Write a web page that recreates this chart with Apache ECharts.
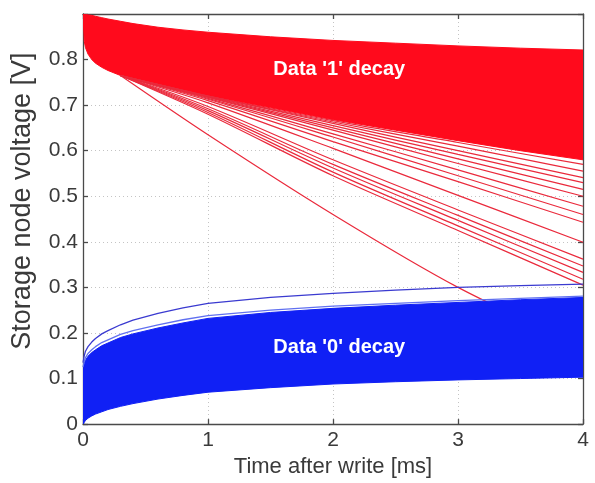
<!DOCTYPE html>
<html>
<head>
<meta charset="utf-8">
<script src="https://cdn.jsdelivr.net/npm/echarts@6/dist/echarts.min.js"></script>
<style>
html,body{margin:0;padding:0;background:#fff;}
#c{width:595px;height:483px;}
</style>
</head>
<body>
<div id="c"></div>
<script>
// Time samples [ms] for the dense bands and the blue outliers
var TB = [0, 0.01, 0.02, 0.04, 0.07, 0.1, 0.15, 0.2, 0.3, 0.4, 0.6, 0.8, 1, 1.5, 2, 2.5, 3, 3.5, 4];
// Time samples [ms] for the red outlier traces (after they leave the dense band)
var TR = [0.3, 1, 2, 3, 4];
var xTicks = [0, 1, 2, 3, 4];
var yTicks = [0, 0.1, 0.2, 0.3, 0.4, 0.5, 0.6, 0.7, 0.8];

// Data '1' dense band envelope
var redTop = [0.900, 0.900, 0.899, 0.898, 0.897, 0.895, 0.892, 0.889, 0.884, 0.879, 0.871, 0.865, 0.860, 0.850, 0.842, 0.836, 0.830, 0.825, 0.821];
var redLow = [0.900, 0.840, 0.826, 0.812, 0.800, 0.792, 0.783, 0.776, 0.765, 0.757, 0.743, 0.731, 0.720, 0.694, 0.668, 0.645, 0.622, 0.600, 0.580];

// Data '1' outlier traces
var red01 = [0.765, 0.635, 0.460, 0.300, 0.170];
var red02 = [0.765, 0.680, 0.545, 0.425, 0.305];
var red03 = [0.765, 0.684, 0.553, 0.435, 0.318];
var red04 = [0.765, 0.688, 0.562, 0.447, 0.333];
var red05 = [0.765, 0.692, 0.570, 0.458, 0.347];
var red06 = [0.765, 0.697, 0.580, 0.470, 0.362];
var red07 = [0.765, 0.705, 0.605, 0.502, 0.399];
var red08 = [0.765, 0.710, 0.620, 0.532, 0.443];
var red09 = [0.765, 0.713, 0.630, 0.545, 0.460];
var red10 = [0.765, 0.715, 0.637, 0.558, 0.478];
var red11 = [0.765, 0.717, 0.645, 0.572, 0.500];
var red12 = [0.765, 0.718, 0.650, 0.582, 0.515];
var red13 = [0.765, 0.719, 0.655, 0.592, 0.530];
var red14 = [0.765, 0.720, 0.660, 0.600, 0.541];
var red15 = [0.765, 0.720, 0.663, 0.610, 0.555];
var red16 = [0.765, 0.720, 0.666, 0.618, 0.570];
var redLines = [red01, red02, red03, red04, red05, red06, red07, red08,
                red09, red10, red11, red12, red13, red14, red15, red16];

// Data '0' dense band envelope
var blueTop = [0.120, 0.133, 0.140, 0.149, 0.157, 0.163, 0.172, 0.178, 0.190, 0.198, 0.211, 0.222, 0.232, 0.245, 0.254, 0.261, 0.267, 0.273, 0.278];
var blueLow = [0.000, 0.004, 0.008, 0.013, 0.018, 0.022, 0.027, 0.032, 0.039, 0.045, 0.055, 0.063, 0.070, 0.080, 0.088, 0.093, 0.097, 0.100, 0.103];
// Data '0' outlier traces
var blue01 = [0.135, 0.150, 0.160, 0.170, 0.180, 0.188, 0.198, 0.205, 0.218, 0.228, 0.243, 0.255, 0.265, 0.278, 0.287, 0.294, 0.300, 0.304, 0.307];
var blue02 = [0.125, 0.138, 0.146, 0.155, 0.163, 0.170, 0.179, 0.185, 0.197, 0.205, 0.218, 0.229, 0.238, 0.250, 0.259, 0.265, 0.271, 0.276, 0.281];
var blueLines = [blue01, blue02];

var labels = [
  {text: "Data '1' decay", t: 2.05, v: 0.778},
  {text: "Data '0' decay", t: 2.05, v: 0.169}
];

var RED = '#ff0a1c';
var BLUE = '#1020f5';

function pts(ts, arr) { return ts.map(function (t, i) { return [t, arr[i]]; }); }

function bandSeries(top, low, color, z) {
  return {
    type: 'custom', silent: true, animation: false, clip: true, z: z,
    data: [[0, 0]],
    renderItem: function (params, api) {
      var p = [];
      for (var i = 0; i < TB.length; i++) p.push(api.coord([TB[i], top[i]]));
      for (var j = TB.length - 1; j >= 0; j--) p.push(api.coord([TB[j], low[j]]));
      return {type: 'polygon', shape: {points: p}, style: {fill: color, stroke: color, lineWidth: 1}};
    }
  };
}

var series = [];
series.push(bandSeries(redTop, redLow, RED, 2));
redLines.forEach(function (l, i) {
  series.push({type: 'line', showSymbol: false, smooth: 0.3, silent: true, animation: false, z: 3,
    data: pts(TR, l), lineStyle: {color: '#ea2a3c', width: 1.2}});
});
series.push(bandSeries(blueTop, blueLow, BLUE, 4));
blueLines.forEach(function (l, i) {
  series.push({type: 'line', showSymbol: false, smooth: false, silent: true, animation: false, z: 5,
    data: pts(TB, l), lineStyle: {color: i === 0 ? '#3a3ad0' : '#6070f0', width: 1.3}});
});

var FONT = 'Liberation Sans';
var axisLineStyle = {color: '#4a4a4a', width: 1.3};
var chart = echarts.init(document.getElementById('c'), null, {renderer: 'canvas'});
chart.setOption({
  animation: false,
  backgroundColor: '#fff',
  grid: {left: 83, right: 12, top: 14, bottom: 58},
  xAxis: [{
    type: 'value', min: 0, max: 4, interval: 1,
    name: 'Time after write [ms]', nameLocation: 'middle', nameGap: 29,
    nameTextStyle: {fontFamily: FONT, fontSize: 22, color: '#3a3a3a'},
    axisLine: {show: true, onZero: false, lineStyle: axisLineStyle},
    axisTick: {show: true, inside: true, length: 5, lineStyle: axisLineStyle},
    axisLabel: {fontFamily: FONT, fontSize: 21, color: '#3a3a3a', margin: 6,
      formatter: function (v) { return xTicks.indexOf(v) >= 0 ? String(v) : ''; }},
    splitLine: {show: true, lineStyle: {color: '#c4c4c4', type: [1, 3], width: 1}}
  }, {
    type: 'value', min: 0, max: 4, interval: 1, position: 'top',
    axisLine: {show: true, onZero: false, lineStyle: axisLineStyle},
    axisTick: {show: true, inside: true, length: 5, lineStyle: axisLineStyle},
    axisLabel: {show: false}, splitLine: {show: false}
  }],
  yAxis: [{
    type: 'value', min: 0, max: 0.9, interval: 0.1,
    name: 'Storage node voltage [V]', nameLocation: 'middle', nameGap: 47,
    nameTextStyle: {fontFamily: FONT, fontSize: 27, color: '#3a3a3a', padding: [0, 0, 0, 36]},
    axisLine: {show: true, onZero: false, lineStyle: axisLineStyle},
    axisTick: {show: true, inside: true, length: 5, lineStyle: axisLineStyle},
    axisLabel: {fontFamily: FONT, fontSize: 21, color: '#3a3a3a', margin: 5,
      formatter: function (v) {
        var r = Math.round(v * 10) / 10;
        for (var i = 0; i < yTicks.length; i++) {
          if (Math.abs(yTicks[i] - r) < 1e-6) return r === 0 ? '0' : r.toFixed(1);
        }
        return '';
      }},
    splitLine: {show: true, lineStyle: {color: '#c4c4c4', type: [1, 3], width: 1}}
  }, {
    type: 'value', min: 0, max: 0.9, interval: 0.1, position: 'right',
    axisLine: {show: true, onZero: false, lineStyle: axisLineStyle},
    axisTick: {show: true, inside: true, length: 5, lineStyle: axisLineStyle},
    axisLabel: {show: false}, splitLine: {show: false}
  }],
  series: series
});

var g = labels.map(function (L) {
  var p = chart.convertToPixel({xAxisIndex: 0, yAxisIndex: 0}, [L.t, L.v]);
  return {
    type: 'text', x: p[0], y: p[1], z: 100,
    style: {text: L.text, fill: '#ffffff', font: 'bold 20px "Liberation Sans"', textAlign: 'center', textVerticalAlign: 'middle'}
  };
});
chart.setOption({graphic: g});
</script>
</body>
</html>
